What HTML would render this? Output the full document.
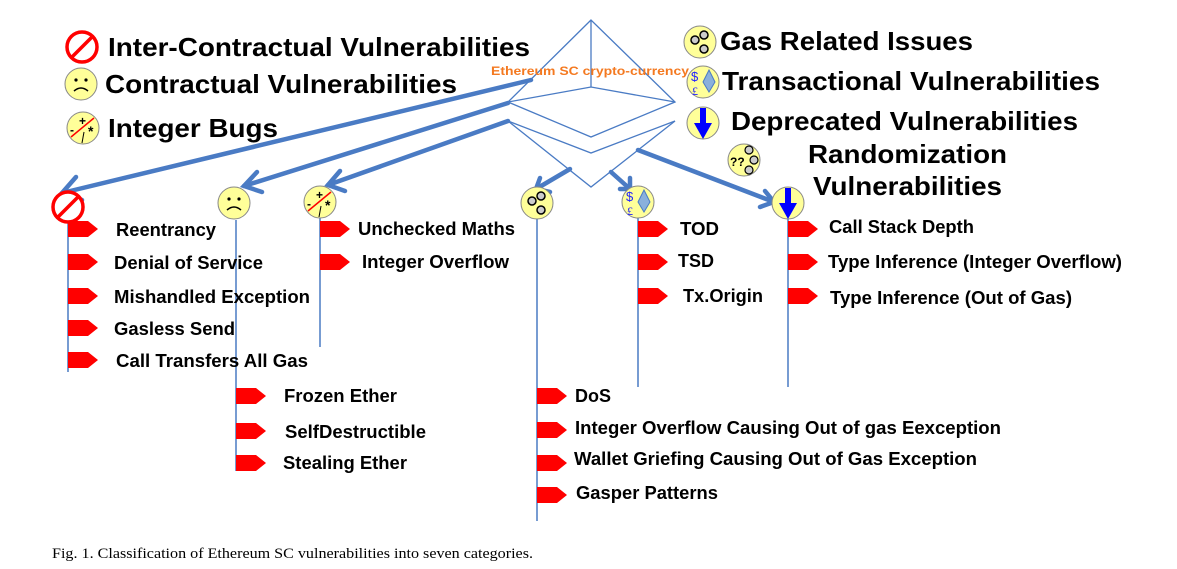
<!DOCTYPE html>
<html><head><meta charset="utf-8"><style>
html,body{margin:0;padding:0;background:#fff}
svg{display:block}
.b{font-family:"Liberation Sans",Arial,sans-serif;font-weight:bold;fill:#000}
</style></head><body>
<svg width="1177" height="569" viewBox="0 0 1177 569" xmlns="http://www.w3.org/2000/svg">
<defs>
<g id="ban"><circle r="15" fill="#fff" stroke="#f00" stroke-width="3.5"/><line x1="-10" y1="10" x2="10" y2="-10" stroke="#f00" stroke-width="3.5"/></g>
<g id="frown"><circle r="16" fill="#ffff99" stroke="#888" stroke-width="1"/><circle cx="-5" cy="-4" r="1.6" fill="#000"/><circle cx="5" cy="-4" r="1.6" fill="#000"/><path d="M-7 7 Q0 1 7 7" fill="none" stroke="#000" stroke-width="1.5"/></g>
<g id="intb"><circle r="16" fill="#ffff99" stroke="#888" stroke-width="1"/><line x1="-12" y1="9" x2="11" y2="-10" stroke="#f00" stroke-width="1.5"/><text x="-4" y="-3" font-family="Liberation Sans" font-size="12" font-weight="bold">+</text><text x="-13" y="6" font-family="Liberation Sans" font-size="12" font-weight="bold">-</text><text x="5" y="8" font-family="Liberation Sans" font-size="14" font-weight="bold">*</text><line x1="1" y1="4" x2="-1" y2="15" stroke="#000" stroke-width="1"/></g>
<g id="gas"><circle r="16" fill="#ffff99" stroke="#888" stroke-width="1"/><circle cx="-5" cy="-2" r="4" fill="#ccc" stroke="#000" stroke-width="1.5"/><circle cx="4" cy="-7" r="4" fill="#ccc" stroke="#000" stroke-width="1.5"/><circle cx="4" cy="7" r="4" fill="#ccc" stroke="#000" stroke-width="1.5"/></g>
<g id="trans"><circle r="16" fill="#ffff99" stroke="#888" stroke-width="1"/><text x="-12" y="-1" font-family="Liberation Sans" font-size="13" fill="#22f">$</text><text x="-11" y="13" font-family="Liberation Serif" font-size="12" fill="#22f">£</text><path d="M6 -12 L12 0 L6 10 L0 0 Z" fill="#8ab0dc" stroke="#4a7bc4"/></g>
<g id="depr"><circle r="16" fill="#ffff99" stroke="#888" stroke-width="1"/><rect x="-3" y="-15" width="6" height="16" fill="#00f"/><path d="M-9 0 L9 0 L0 16 Z" fill="#00f"/></g>
<g id="rand"><circle r="16" fill="#ffff99" stroke="#888" stroke-width="1"/><text x="-14" y="6" font-family="Liberation Sans" font-size="12" font-weight="bold">??</text><circle cx="5" cy="-10" r="4" fill="#ccc" stroke="#000" stroke-width="1.2"/><circle cx="10" cy="0" r="4" fill="#ccc" stroke="#000" stroke-width="1.2"/><circle cx="5" cy="10" r="4" fill="#ccc" stroke="#000" stroke-width="1.2"/></g>
<path id="ra" d="M0 -8 L20 -8 L30 0 L20 8 L0 8 Z" fill="#f00"/>
</defs>

<g fill="none" stroke="#4a7bc4" stroke-width="1.3">
<path d="M591 20 L508 102 L591 137 L675 102 Z"/>
<path d="M591 20 L591 87 M508 102 L591 87 L675 102"/>
<path d="M508 121 L591 153 L675 121"/>
<path d="M508 121 L591 187 L675 121"/>
</g>
<text x="491" y="75" font-family="Liberation Sans" font-weight="bold" font-size="12" fill="#f47920" textLength="198" lengthAdjust="spacingAndGlyphs">Ethereum SC crypto-currency</text>

<g stroke="#4a7bc4" stroke-width="4.5" fill="none" stroke-linecap="round">
<line x1="531" y1="80" x2="62" y2="193"/><path d="M76 177 L62 193 L82 200"/>
<line x1="508" y1="103" x2="244" y2="186"/><path d="M257 172 L244 186 L262 192"/>
<line x1="508" y1="121" x2="328" y2="185"/><path d="M340 171 L328 185 L345 191"/>
<line x1="570" y1="169" x2="536" y2="189"/><path d="M540 178 L536 189 L550 192"/>
<line x1="611" y1="172" x2="630" y2="189"/><path d="M630 178 L630 189 L620 189"/>
<line x1="638" y1="150" x2="774" y2="202"/><path d="M765 191 L774 202 L760 207"/>
</g>

<g stroke="#4a7bc4" stroke-width="1.5">
<line x1="68" y1="222" x2="68" y2="372"/>
<line x1="236" y1="220" x2="236" y2="471"/>
<line x1="320" y1="218" x2="320" y2="347"/>
<line x1="537" y1="218" x2="537" y2="521"/>
<line x1="638" y1="218" x2="638" y2="387"/>
<line x1="788" y1="219" x2="788" y2="387"/>
</g>

<use href="#ban" x="68" y="207"/>
<use href="#frown" x="234" y="203"/>
<use href="#intb" x="320" y="202"/>
<use href="#gas" x="537" y="203"/>
<use href="#trans" x="638" y="202"/>
<use href="#depr" x="788" y="203"/>

<use href="#ban" x="82" y="47"/>
<text class="b" x="108" y="56" font-size="26" textLength="422" lengthAdjust="spacingAndGlyphs">Inter-Contractual Vulnerabilities</text>
<use href="#frown" x="81" y="84"/>
<text class="b" x="105" y="93" font-size="26" textLength="352" lengthAdjust="spacingAndGlyphs">Contractual Vulnerabilities</text>
<use href="#intb" x="83" y="128"/>
<text class="b" x="108" y="137" font-size="26" textLength="170" lengthAdjust="spacingAndGlyphs">Integer Bugs</text>
<use href="#gas" x="700" y="42"/>
<text class="b" x="720" y="50" font-size="26" textLength="253" lengthAdjust="spacingAndGlyphs">Gas Related Issues</text>
<use href="#trans" x="703" y="82"/>
<text class="b" x="722" y="90" font-size="26" textLength="378" lengthAdjust="spacingAndGlyphs">Transactional Vulnerabilities</text>
<use href="#depr" x="703" y="123"/>
<text class="b" x="731" y="130" font-size="26" textLength="347" lengthAdjust="spacingAndGlyphs">Deprecated Vulnerabilities</text>
<use href="#rand" x="744" y="160"/>
<text class="b" x="808" y="163" font-size="26" textLength="199" lengthAdjust="spacingAndGlyphs">Randomization</text>
<text class="b" x="813" y="195" font-size="26" textLength="189" lengthAdjust="spacingAndGlyphs">Vulnerabilities</text>

<g font-size="18">
<use href="#ra" x="68" y="229"/><text class="b" x="116" y="236" textLength="100" lengthAdjust="spacingAndGlyphs">Reentrancy</text>
<use href="#ra" x="68" y="262"/><text class="b" x="114" y="269" textLength="149" lengthAdjust="spacingAndGlyphs">Denial of Service</text>
<use href="#ra" x="68" y="296"/><text class="b" x="114" y="303" textLength="196" lengthAdjust="spacingAndGlyphs">Mishandled Exception</text>
<use href="#ra" x="68" y="328"/><text class="b" x="114" y="335" textLength="121" lengthAdjust="spacingAndGlyphs">Gasless Send</text>
<use href="#ra" x="68" y="360"/><text class="b" x="116" y="367" textLength="192" lengthAdjust="spacingAndGlyphs">Call Transfers All Gas</text>

<use href="#ra" x="236" y="396"/><text class="b" x="284" y="402" textLength="113" lengthAdjust="spacingAndGlyphs">Frozen Ether</text>
<use href="#ra" x="236" y="431"/><text class="b" x="285" y="438" textLength="141" lengthAdjust="spacingAndGlyphs">SelfDestructible</text>
<use href="#ra" x="236" y="463"/><text class="b" x="283" y="469" textLength="124" lengthAdjust="spacingAndGlyphs">Stealing Ether</text>

<use href="#ra" x="320" y="229"/><text class="b" x="358" y="235" textLength="157" lengthAdjust="spacingAndGlyphs">Unchecked Maths</text>
<use href="#ra" x="320" y="262"/><text class="b" x="362" y="268" textLength="147" lengthAdjust="spacingAndGlyphs">Integer Overflow</text>

<use href="#ra" x="537" y="396"/><text class="b" x="575" y="402" textLength="36" lengthAdjust="spacingAndGlyphs">DoS</text>
<use href="#ra" x="537" y="430"/><text class="b" x="575" y="434" textLength="426" lengthAdjust="spacingAndGlyphs">Integer Overflow Causing Out of gas Eexception</text>
<use href="#ra" x="537" y="463"/><text class="b" x="574" y="465" textLength="403" lengthAdjust="spacingAndGlyphs">Wallet Griefing Causing Out of Gas Exception</text>
<use href="#ra" x="537" y="495"/><text class="b" x="576" y="499" textLength="142" lengthAdjust="spacingAndGlyphs">Gasper Patterns</text>

<use href="#ra" x="638" y="229"/><text class="b" x="680" y="235" textLength="39" lengthAdjust="spacingAndGlyphs">TOD</text>
<use href="#ra" x="638" y="262"/><text class="b" x="678" y="267" textLength="36" lengthAdjust="spacingAndGlyphs">TSD</text>
<use href="#ra" x="638" y="296"/><text class="b" x="683" y="302" textLength="80" lengthAdjust="spacingAndGlyphs">Tx.Origin</text>

<use href="#ra" x="788" y="229"/><text class="b" x="829" y="233" textLength="145" lengthAdjust="spacingAndGlyphs">Call Stack Depth</text>
<use href="#ra" x="788" y="262"/><text class="b" x="828" y="268" textLength="294" lengthAdjust="spacingAndGlyphs">Type Inference (Integer Overflow)</text>
<use href="#ra" x="788" y="296"/><text class="b" x="830" y="304" textLength="242" lengthAdjust="spacingAndGlyphs">Type Inference (Out of Gas)</text>
</g>

<text x="52" y="558" font-family="Liberation Serif" font-size="15" fill="#000" textLength="481" lengthAdjust="spacingAndGlyphs">Fig. 1.  Classification of Ethereum SC vulnerabilities into seven categories.</text>
</svg>
</body></html>
